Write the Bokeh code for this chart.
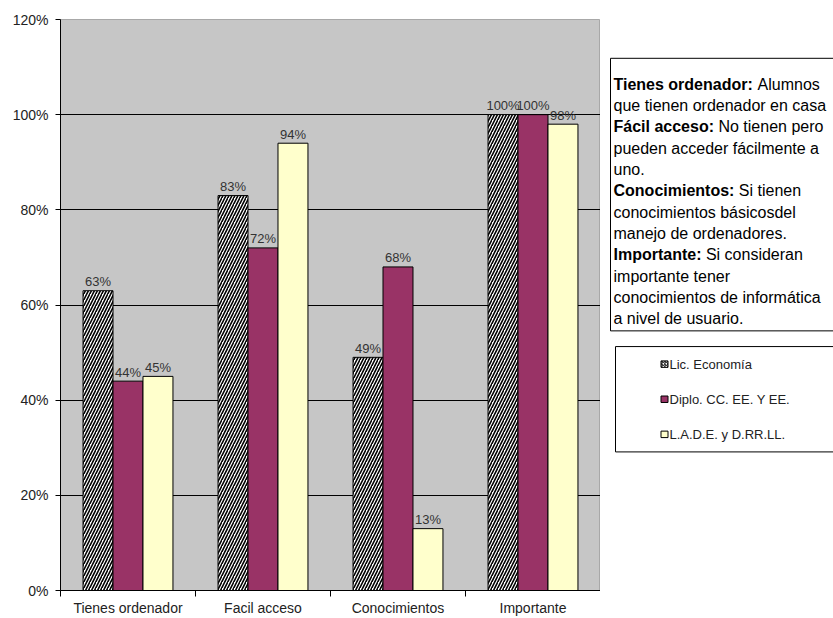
from bokeh.plotting import figure
from bokeh.layouts import row
from bokeh.models import Range1d, FixedTicker, NumeralTickFormatter, ColumnDataSource
from bokeh.transform import dodge
from bokeh.core.properties import value
from bokeh.embed import file_html
from bokeh.resources import INLINE

# ---------------- data ----------------
categories = ["Tienes ordenador", "Facil acceso", "Conocimientos", "Importante"]
series_names = ["Lic. Economía", "Diplo. CC. EE. Y EE.", "L.A.D.E. y D.RR.LL."]
lic_economia = [0.63, 0.83, 0.49, 1.00]
diplo_cc_ee = [0.44, 0.72, 0.68, 1.00]
lade_drrll = [0.45, 0.94, 0.13, 0.98]
y_ticks = [0.0, 0.2, 0.4, 0.6, 0.8, 1.0, 1.2]
grid_ticks = [0.2, 0.4, 0.6, 0.8, 1.0]

note_bold = ["Tienes ordenador:", "", "Fácil acceso:", "", "", "Conocimientos:", "", "",
             "Importante:", "", "", ""]
note_text = ["Alumnos", "que tienen ordenador en casa", "No tienen pero",
             "pueden acceder fácilmente a", "uno.", "Si tienen",
             "conocimientos básicosdel", "manejo de ordenadores.", "Si consideran",
             "importante tener", "conocimientos de informática", "a nivel de usuario."]

FONT = "Liberation Sans"
fills = ["white", "#993366", "#FFFFCC"]
offsets = [-0.222, 0.0, 0.222]
bar_w = 0.222

cx = [i + 0.5 for i in range(len(categories))]
src = ColumnDataSource(dict(
    x=cx,
    s0=lic_economia, s1=diplo_cc_ee, s2=lade_drrll,
    l0=[f"{round(v * 100)}%" for v in lic_economia],
    l1=[f"{round(v * 100)}%" for v in diplo_cc_ee],
    l2=[f"{round(v * 100)}%" for v in lade_drrll],
))

p = figure(width=600, height=618, output_backend="svg", toolbar_location=None,
           x_range=Range1d(0, len(categories)), y_range=Range1d(0, 1.2),
           min_border_left=60, min_border_right=0, min_border_top=19, min_border_bottom=26)
p.background_fill_color = "#c6c6c6"
p.border_fill_color = "white"
p.outline_line_color = "#a8a8a8"

for k in range(3):
    kw = dict(x=dodge("x", offsets[k], range=p.x_range), top=f"s{k}", width=bar_w,
              source=src, fill_color=fills[k], line_color="black", line_width=1)
    if k == 0:
        kw.update(hatch_pattern="/", hatch_color="black", hatch_scale=6, hatch_weight=1.6)
    p.vbar(**kw)
    p.text(x=dodge("x", offsets[k], range=p.x_range), y=f"s{k}", text=f"l{k}", source=src,
           text_align="center", text_baseline="alphabetic", y_offset=-9,
           text_font=value(FONT), text_font_size="13px", text_color="#333333")

# axes
p.xaxis.ticker = FixedTicker(ticks=cx, minor_ticks=list(range(len(categories) + 1)))
p.xaxis.major_label_overrides = {c: n for c, n in zip(cx, categories)}
p.xaxis.major_tick_out = 0
p.xaxis.major_tick_in = 0
p.xaxis.minor_tick_out = 6
p.xaxis.minor_tick_in = 0
p.xaxis.minor_tick_line_color = "black"
p.xaxis.major_label_standoff = 3
p.xaxis.major_label_text_font = FONT
p.xaxis.major_label_text_font_size = "14px"
p.xaxis.major_label_text_color = "#222222"
p.xaxis.axis_line_color = "black"

p.yaxis.ticker = FixedTicker(ticks=y_ticks, minor_ticks=[])
p.yaxis.formatter = NumeralTickFormatter(format="0%")
p.yaxis.major_tick_out = 5
p.yaxis.major_tick_in = 0
p.yaxis.major_label_standoff = 7
p.yaxis.major_label_text_font = FONT
p.yaxis.major_label_text_font_size = "14px"
p.yaxis.major_label_text_color = "#222222"
p.yaxis.axis_line_color = "black"
p.yaxis.major_tick_line_color = "black"

p.xgrid.visible = False
p.ygrid.ticker = FixedTicker(ticks=grid_ticks)
p.ygrid.grid_line_color = "black"
p.ygrid.grid_line_width = 1

# ---------------- side panel (notes + legend) ----------------
PW, PH = 233, 618
q = figure(width=PW, height=PH, output_backend="svg", toolbar_location=None,
           x_range=Range1d(0, PW), y_range=Range1d(PH, 0),
           min_border=0, min_border_left=0, min_border_right=0, min_border_top=0, min_border_bottom=0)
q.axis.visible = False
q.grid.visible = False
q.outline_line_color = None
q.background_fill_color = "white"
q.border_fill_color = "white"

# notes box
q.quad(left=[10], right=[280], top=[42], bottom=[337], fill_color="white", line_color="black", line_width=1)

BOLD_W = {' ': 278, ':': 333, 'T': 611, 'i': 278, 'e': 556, 'n': 611, 's': 556, 'o': 611, 'r': 389,
          'd': 611, 'a': 556, 'F': 611, 'á': 556, 'c': 556, 'l': 278, 'C': 722, 'm': 889, 't': 333,
          'I': 278, 'p': 611}
NOTE_FS = 16
line_y = [70 + i * 23.1 for i in range(len(note_text))]
bx, by, bt, rx, ry, rt = [], [], [], [], [], []
for yb, b, t in zip(line_y, note_bold, note_text):
    x0 = 13
    if b:
        bx.append(x0); by.append(yb); bt.append(b)
        w = sum(BOLD_W.get(ch, 556) for ch in b) / 1000 * NOTE_FS + 0.278 * NOTE_FS
        x0 += w
    rx.append(x0); ry.append(yb); rt.append(t)
q.text(x=bx, y=by, text=bt, text_font=value(FONT), text_font_style="bold",
       text_font_size=f"{NOTE_FS}px", text_baseline="middle", text_color="black")
q.text(x=rx, y=ry, text=rt, text_font=value(FONT),
       text_font_size=f"{NOTE_FS}px", text_baseline="middle", text_color="black")

# legend box
q.quad(left=[15], right=[280], top=[354], bottom=[468], fill_color="white", line_color="black", line_width=1)
leg_y = [373, 411, 449]
for k in range(3):
    kw = dict(x=[64], y=[leg_y[k]], width=7, height=7, fill_color=fills[k],
              line_color="black", line_width=1)
    if k == 0:
        kw.update(hatch_pattern="/", hatch_color="black", hatch_scale=3, hatch_weight=1)
    q.rect(**kw)
q.text(x=[69] * 3, y=leg_y, text=series_names, text_font=value(FONT), text_font_size="13px",
       text_baseline="middle", text_color="#222222")

layout = row(p, q, spacing=0)
open("out.html", "w").write(file_html(layout, INLINE))
